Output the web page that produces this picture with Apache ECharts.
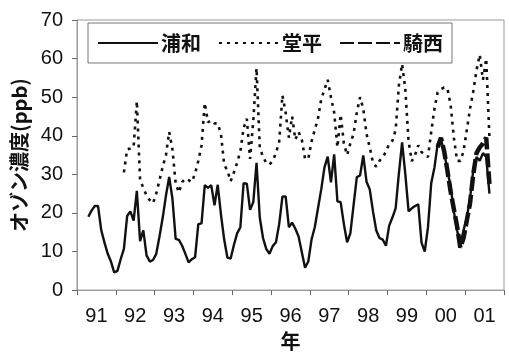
<!DOCTYPE html>
<html>
<head>
<meta charset="utf-8">
<script src="https://cdn.jsdelivr.net/npm/echarts@6/dist/echarts.min.js"></script>
<style>
  html, body { margin: 0; padding: 0; background: #fff; }
  #chart { width: 509px; height: 356px; }
</style>
</head>
<body>
<div id="chart"></div>
<script>
// Year labels on the x axis (one category per year, Jan 1991 - Dec 2001)
const years = ['91', '92', '93', '94', '95', '96', '97', '98', '99', '00', '01'];

// Monthly mean ozone (ppb); month index 0 = Jan 1991
const urawaStart = 3;
const urawa = [
  19.0, 20.6, 21.8, 21.8, 15.5, 12.3, 9.4, 7.4, 4.6,
  5.0, 8.0, 10.7, 19.2, 20.4, 18.0, 25.7, 12.7, 15.5, 9.0, 7.4, 7.8,
  9.4, 13.9, 18.8, 24.5, 29.3, 23.7, 13.3, 13.0, 11.5, 9.4, 7.2, 8.0,
  8.5, 17.1, 17.3, 27.2, 26.5, 27.2, 22.0, 27.3, 19.6, 13.1, 8.4, 8.2,
  11.7, 14.7, 16.3, 27.7, 27.6, 20.8, 22.8, 33.0, 18.8, 13.5, 10.7, 9.4,
  11.4, 12.4, 17.1, 24.2, 24.3, 16.3, 17.5, 15.9, 13.9, 9.8, 5.8, 7.4,
  13.1, 16.3, 21.2, 26.1, 31.8, 34.6, 27.9, 35.2, 23.0, 22.8, 17.1, 12.4,
  14.7, 22.0, 29.3, 29.7, 34.9, 28.1, 26.1, 20.4, 15.5, 13.5, 13.1, 11.5,
  16.7, 18.8, 21.2, 30.2, 38.3, 30.0, 20.4, 21.2, 21.8, 22.2, 12.3, 10.0,
  16.3, 27.7, 31.8, 37.9, 39.1, 35.9, 31.0, 26.9, 20.4, 15.5, 11.5, 15.5,
  18.8, 23.7, 31.0, 34.5, 33.5, 35.5, 34.5, 25.0
];

const dohiraStart = 14;
const dohira = [
  30.5, 36.5, 36.7, 37.0, 49.0, 28.5, 26.5, 24.5, 23.3, 22.5,
  25.0, 28.5, 32.0, 35.0, 41.0, 36.5, 27.7, 25.3, 28.0, 28.9, 28.5, 28.0,
  30.2, 33.5, 37.5, 48.5, 43.5, 44.0, 43.2, 43.2, 40.5, 32.5, 31.0, 28.2,
  30.5, 33.0, 36.0, 42.0, 44.4, 34.0, 44.0, 57.5, 37.0, 34.5, 33.0, 32.5,
  33.5, 35.5, 38.5, 50.5, 46.0, 39.5, 45.0, 39.0, 41.0, 39.0, 34.0, 34.0,
  38.5, 41.5, 44.5, 49.5, 52.0, 54.5, 50.0, 46.0, 37.0, 45.5, 38.0, 35.0,
  38.0, 40.5, 46.0, 50.0, 47.0, 40.5, 37.0, 33.0, 32.0, 33.5, 34.5, 35.8,
  38.0, 38.7, 41.5, 53.0, 58.6, 52.0, 38.5, 33.4, 35.0, 37.5, 35.8, 35.0,
  34.5, 41.0, 47.0, 51.3, 52.1, 52.5, 52.3, 48.0, 39.5, 33.5, 33.5, 36.0,
  41.5, 47.0, 51.5, 57.0, 61.0, 54.5, 60.0, 39.5
];

const kisaiStart = 111;
const kisai = [
  37.0, 39.5, 36.0, 31.0, 25.5, 21.0, 16.5, 11.0, 13.5,
  18.0, 22.5, 30.0, 35.5, 37.0, 38.0, 39.5, 27.5
];

// Place each monthly value at the middle of its month on a 0-132 month scale
function toPoints(start, values) {
  return values.map((v, k) => [start + k + 0.5, v]);
}

const font = '"Liberation Sans", "Noto Sans CJK JP", sans-serif';
const cjk = '"Noto Sans CJK JP", "Liberation Sans", sans-serif';
const ink = '#111';
const frame = '#999';

const chart = echarts.init(document.getElementById('chart'), null, { renderer: 'canvas' });

chart.setOption({
  animation: false,
  backgroundColor: '#fff',
  grid: {
    left: 77, right: 5, top: 20, bottom: 49,
    show: true, borderColor: frame, borderWidth: 1, backgroundColor: 'transparent'
  },
  legend: {
    left: 88, top: 23,
    padding: [10, 9],
    itemGap: 17,
    itemWidth: 60, itemHeight: 18,
    borderColor: '#777', borderWidth: 1,
    // line samples only, no point markers
    itemStyle: { opacity: 0 },
    textStyle: { fontFamily: cjk, fontSize: 20, fontWeight: 'bold', color: ink, padding: [0, 0, 0, -2] },
    data: ['浦和', '堂平', '騎西']
  },
  xAxis: [
    {
      type: 'category',
      data: years,
      boundaryGap: true,
      position: 'bottom',
      axisLine: { lineStyle: { color: frame, width: 1 } },
      axisTick: { show: true, interval: 0, length: 5, lineStyle: { color: '#666' } },
      axisLabel: { interval: 0, margin: 16, fontFamily: font, fontSize: 20, color: ink },
      name: '年',
      nameLocation: 'middle',
      nameGap: 37,
      nameTextStyle: { fontFamily: cjk, fontSize: 20, fontWeight: 'bold', color: ink },
      splitLine: { show: false }
    },
    {
      type: 'value',
      min: 0, max: 132,
      show: false,
      splitLine: { show: false }
    }
  ],
  yAxis: {
    type: 'value',
    min: 0, max: 70, interval: 10,
    axisLine: { show: true, lineStyle: { color: frame, width: 1 } },
    axisTick: { show: true, length: 5, lineStyle: { color: '#666' } },
    axisLabel: { margin: 14, fontFamily: font, fontSize: 20, color: ink },
    splitLine: { show: false },
    name: 'オゾン濃度(ppb)',
    nameLocation: 'middle',
    nameGap: 40,
    nameRotate: 90,
    nameTextStyle: { fontFamily: cjk, fontSize: 20, fontWeight: 'bold', color: ink }
  },
  series: [
    {
      name: '浦和', type: 'line', xAxisIndex: 1,
      data: toPoints(urawaStart, urawa),
      symbol: 'none', showSymbol: false,
      lineStyle: { color: ink, width: 2.4, type: 'solid' },
      itemStyle: { color: ink },
      z: 3
    },
    {
      name: '堂平', type: 'line', xAxisIndex: 1,
      data: toPoints(dohiraStart, dohira),
      symbol: 'none', showSymbol: false,
      lineStyle: { color: ink, width: 2.6, type: [3, 5] },
      itemStyle: { color: ink },
      z: 2
    },
    {
      name: '騎西', type: 'line', xAxisIndex: 1,
      data: toPoints(kisaiStart, kisai),
      symbol: 'none', showSymbol: false,
      lineStyle: { color: ink, width: 4.5, type: [14, 4] },
      itemStyle: { color: ink },
      z: 4
    }
  ]
});
</script>
</body>
</html>
